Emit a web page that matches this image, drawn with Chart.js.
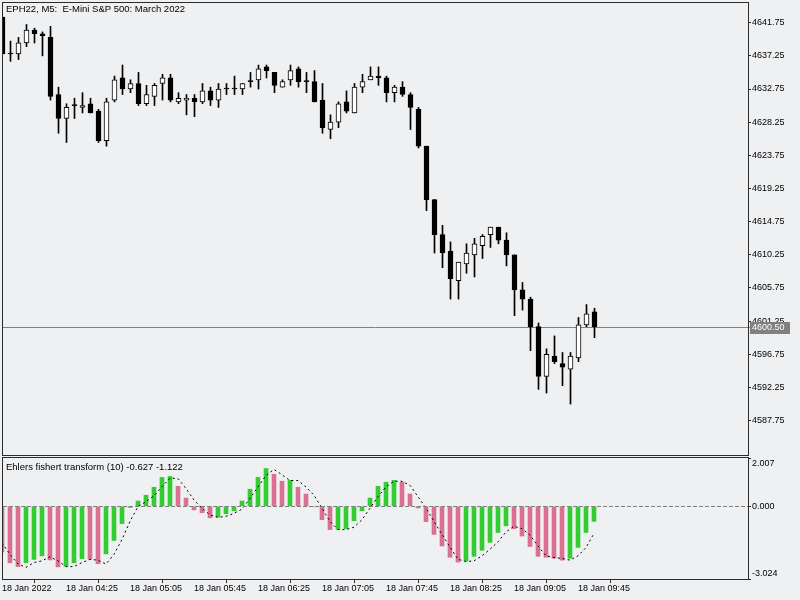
<!DOCTYPE html>
<html>
<head>
<meta charset="utf-8">
<script src="https://cdn.jsdelivr.net/npm/chart.js@4.4.1/dist/chart.umd.min.js"></script>
<style>
    body { margin: 0; background: #eff0f2; }
    #wrap { position: relative; width: 800px; height: 600px; }
    canvas { position: absolute; left: 0; }
</style>
</head>
<body>
<div id="wrap">
    <canvas id="priceChart" width="800" height="457" style="top:0"></canvas>
    <canvas id="fisherChart" width="800" height="145" style="top:455px"></canvas>
</div>
<script>
// EPH22 M5 candles, 18 Jan 2022 03:45 .. 09:55
const opens = [4642.50, 4637.50, 4637.50, 4639.00, 4640.75, 4640.25, 4639.75, 4632.00, 4628.75, 4630.50,
    4630.25, 4630.75, 4629.75, 4625.75, 4631.25, 4634.25, 4632.75, 4633.50, 4630.75, 4631.75,
    4633.50, 4634.25, 4631.00, 4631.25, 4631.50, 4631.00, 4632.50, 4631.25, 4632.75, 4632.75,
    4632.75, 4633.75, 4634.00, 4635.75, 4635.00, 4633.00, 4634.00, 4635.50, 4633.75, 4633.75,
    4631.25, 4627.25, 4628.25, 4631.00, 4629.50, 4633.00, 4634.00, 4634.50, 4634.25, 4632.25,
    4633.00, 4632.00, 4630.00, 4625.00, 4617.75, 4613.00, 4610.75, 4606.75, 4609.00, 4610.25,
    4611.50, 4613.00, 4614.00, 4612.25, 4610.25, 4605.50, 4604.25, 4600.50, 4593.75, 4596.50,
    4595.50, 4594.75, 4596.25, 4600.75, 4602.50];
const highs = [4642.50, 4639.25, 4639.75, 4641.50, 4641.00, 4640.50, 4641.25, 4633.00, 4630.75, 4631.50,
    4632.25, 4631.50, 4630.00, 4631.50, 4634.50, 4636.00, 4634.00, 4635.00, 4633.25, 4633.50,
    4634.75, 4634.75, 4632.25, 4632.00, 4632.00, 4633.50, 4633.00, 4633.50, 4633.50, 4634.50,
    4633.50, 4635.00, 4636.00, 4636.00, 4635.00, 4634.00, 4636.00, 4635.75, 4635.00, 4635.25,
    4633.50, 4629.25, 4631.00, 4632.50, 4633.50, 4634.75, 4635.75, 4635.75, 4634.50, 4633.25,
    4633.75, 4632.25, 4630.25, 4625.00, 4617.75, 4614.25, 4612.00, 4609.25, 4611.75, 4612.50,
    4613.00, 4614.00, 4614.00, 4613.25, 4610.25, 4606.50, 4604.50, 4601.00, 4597.50, 4599.25,
    4597.00, 4597.00, 4601.75, 4603.50, 4603.00];
const lows = [4637.50, 4636.50, 4636.75, 4638.50, 4639.00, 4637.25, 4631.25, 4626.75, 4625.50, 4628.75,
    4629.50, 4629.50, 4625.50, 4625.00, 4631.00, 4632.00, 4632.25, 4630.50, 4630.50, 4630.50,
    4631.25, 4631.00, 4630.75, 4629.25, 4629.00, 4630.75, 4630.50, 4630.25, 4632.00, 4632.00,
    4632.00, 4633.00, 4632.75, 4634.25, 4632.25, 4633.00, 4633.25, 4633.00, 4632.25, 4631.00,
    4626.75, 4626.00, 4627.50, 4629.50, 4629.50, 4632.25, 4634.00, 4633.25, 4631.00, 4631.00,
    4631.75, 4627.25, 4624.75, 4616.25, 4610.50, 4608.50, 4604.25, 4604.25, 4607.75, 4607.25,
    4609.75, 4611.25, 4611.75, 4608.75, 4602.00, 4602.75, 4597.25, 4592.00, 4591.50, 4595.50,
    4592.50, 4590.00, 4595.75, 4600.50, 4599.00];
const closes = [4637.50, 4637.50, 4639.00, 4640.75, 4640.25, 4640.00, 4631.75, 4628.75, 4630.25, 4630.50,
    4630.50, 4629.50, 4625.75, 4631.00, 4634.00, 4632.75, 4633.50, 4630.75, 4632.00, 4633.25,
    4634.25, 4631.25, 4631.50, 4631.50, 4631.00, 4632.50, 4631.25, 4632.75, 4632.75, 4632.75,
    4633.50, 4633.75, 4635.50, 4635.25, 4633.25, 4633.75, 4635.25, 4633.75, 4633.75, 4631.00,
    4627.50, 4628.25, 4630.75, 4629.75, 4633.00, 4633.75, 4634.50, 4634.25, 4632.25, 4633.00,
    4632.00, 4630.25, 4625.00, 4617.75, 4613.00, 4610.50, 4607.00, 4609.25, 4610.50, 4611.75,
    4612.75, 4614.00, 4612.25, 4610.25, 4605.50, 4604.25, 4600.50, 4593.75, 4596.75, 4595.75,
    4595.00, 4596.50, 4600.75, 4602.25, 4600.50];

// Ehlers fisher transform (10): histogram and trigger line
const fisher = [-1.90, -2.35, -2.51, -2.35, -2.21, -2.06, -2.23, -2.52, -2.50, -2.35,
    -2.18, -2.20, -2.39, -1.98, -1.42, -0.72, -0.05, 0.22, 0.46, 0.79,
    1.20, 1.24, 0.83, 0.34, -0.15, -0.27, -0.48, -0.45, -0.31, -0.19,
    0.22, 0.71, 1.20, 1.57, 1.33, 1.04, 1.08, 0.79, 0.51, -0.02,
    -0.56, -0.97, -0.96, -0.93, -0.60, -0.19, 0.34, 0.83, 1.00, 1.08,
    1.00, 0.51, -0.07, -0.64, -1.17, -1.65, -2.12, -2.32, -2.28, -2.08,
    -1.83, -1.50, -1.09, -0.81, -0.93, -1.24, -1.67, -2.08, -2.12, -2.16,
    -2.24, -2.16, -1.71, -1.09, -0.627];
const trigger = [-1.52, -2.00, -2.40, -2.54, -2.34, -2.27, -2.10, -2.27, -2.51, -2.51,
    -2.34, -2.21, -2.24, -2.40, -2.00, -1.38, -0.63, -0.01, 0.19, 0.44,
    0.81, 1.17, 1.15, 0.74, 0.26, -0.08, -0.36, -0.46, -0.42, -0.29,
    -0.12, 0.33, 0.81, 1.28, 1.53, 1.31, 1.07, 1.07, 0.80, 0.46,
    -0.08, -0.63, -0.97, -0.97, -0.87, -0.56, -0.08, 0.40, 0.81, 1.04,
    1.04, 0.87, 0.40, -0.08, -0.63, -1.17, -1.70, -2.20, -2.30, -2.27,
    -2.06, -1.79, -1.48, -1.07, -0.83, -0.93, -1.20, -1.65, -2.06, -2.13,
    -2.17, -2.24, -2.06, -1.72, -1.122];

const priceTicks = [4641.75, 4637.25, 4632.75, 4628.25, 4623.75, 4619.25, 4614.75,
    4610.25, 4605.75, 4601.25, 4596.75, 4592.25, 4587.75];
const fisherTicks = [2.007, 0, -3.024];
const timeTicks = [0, 8, 16, 24, 32, 40, 48, 56, 64, 72];
const timeLabels = ["18 Jan 2022", "18 Jan 04:25", "18 Jan 05:05", "18 Jan 05:45", "18 Jan 06:25",
    "18 Jan 07:05", "18 Jan 07:45", "18 Jan 08:25", "18 Jan 09:05", "18 Jan 09:45"];

const FRAME = "#2b2b2b";
const FAMILY = "Liberation Sans";
const tickFont = { family: FAMILY, size: 9 };

// frame round the plot and the caption in its top-left corner
const framePlugin = {
    id: "frame",
    afterDraw(chart, args, opts) {
        const { ctx, chartArea: a } = chart;
        ctx.save();
        ctx.strokeStyle = FRAME;
        ctx.lineWidth = 1;
        ctx.strokeRect(a.left - 0.5, a.top - 0.5, a.right - a.left + 1, a.bottom - a.top + 1);
        ctx.fillStyle = "#000";
        ctx.font = "9.5px " + FAMILY;
        ctx.textBaseline = "alphabetic";
        ctx.fillText(opts.text, a.left + 3, a.top + opts.dy);
        ctx.restore();
    },
};

// last price line and its tag on the price scale
const lastPricePlugin = {
    id: "lastPrice",
    beforeDatasetsDraw(chart) {
        const { ctx, chartArea: a } = chart;
        const y = Math.round(chart.scales.y.getPixelForValue(closes[closes.length - 1])) + 0.5;
        ctx.save();
        ctx.strokeStyle = "#808080";
        ctx.lineWidth = 1;
        ctx.beginPath();
        ctx.moveTo(a.left, y);
        ctx.lineTo(a.right, y);
        ctx.stroke();
        ctx.restore();
    },
    afterDraw(chart) {
        const { ctx, chartArea: a } = chart;
        const last = closes[closes.length - 1];
        const y = Math.round(chart.scales.y.getPixelForValue(last));
        ctx.save();
        ctx.strokeStyle = "#808080";
        ctx.beginPath();
        ctx.moveTo(a.right, y + 0.5);
        ctx.lineTo(a.right + 3, y + 0.5);
        ctx.stroke();
        ctx.fillStyle = "#808080";
        ctx.fillRect(a.right + 2, y - 5, 40, 12);
        ctx.fillStyle = "#ffffff";
        ctx.font = "9px " + FAMILY;
        ctx.textBaseline = "middle";
        ctx.fillText(last.toFixed(2), a.right + 4, y + 1);
        ctx.restore();
    },
};

const zeroLinePlugin = {
    id: "zeroLine",
    afterDatasetsDraw(chart) {
        const { ctx, chartArea: a } = chart;
        const y = Math.round(chart.scales.y.getPixelForValue(0)) + 0.5;
        ctx.save();
        ctx.strokeStyle = "#808080";
        ctx.lineWidth = 1;
        ctx.setLineDash([4, 2]);
        ctx.beginPath();
        ctx.moveTo(a.left, y);
        ctx.lineTo(a.right, y);
        ctx.stroke();
        ctx.restore();
    },
};

const idx = closes.map((c, i) => i);

const priceChart = new Chart(document.getElementById("priceChart").getContext("2d"), {
    type: "bar",
    data: {
        datasets: [
            {
                label: "body",
                data: idx.map(i => ({ x: i, y: [opens[i], closes[i]] })),
                backgroundColor: idx.map(i => (closes[i] > opens[i] ? "#ffffff" : "#000000")),
                borderColor: "#000000",
                borderWidth: 1,
                borderSkipped: false,
                barThickness: 5,
                minBarLength: 1,
                grouped: false,
                order: 0,
            },
            {
                label: "wick",
                data: idx.map(i => ({ x: i, y: [lows[i], highs[i]] })),
                backgroundColor: "#000000",
                borderWidth: 0,
                barThickness: 1,
                grouped: false,
                order: 1,
            },
        ],
    },
    options: {
        responsive: false,
        animation: false,
        events: [],
        layout: { padding: { left: 3, top: 3, right: 0, bottom: 2 } },
        plugins: {
            legend: { display: false },
            tooltip: { enabled: false },
            frame: { text: "EPH22, M5:  E-Mini S&P 500: March 2022", dy: 9 },
        },
        scales: {
            x: { type: "linear", offset: false, min: 0.0625, max: 93.1875, display: false },
            y: {
                position: "right",
                min: 4583.09,
                max: 4644.42,
                border: { display: false },
                grid: { drawOnChartArea: false, tickLength: 3, color: FRAME },
                ticks: {
                    font: tickFont,
                    color: "#000",
                    padding: 1,
                    autoSkip: false,
                    callback: v => v.toFixed(2),
                },
                afterBuildTicks: s => { s.ticks = priceTicks.map(v => ({ value: v })); },
                afterFit: s => { s.width = 52; s.paddingTop = 0; s.paddingBottom = 0; },
            },
        },
    },
    plugins: [lastPricePlugin, framePlugin],
});

const fisherChart = new Chart(document.getElementById("fisherChart").getContext("2d"), {
    type: "bar",
    data: {
        datasets: [
            {
                type: "line",
                label: "trigger",
                data: idx.map(i => ({ x: i, y: trigger[i] })),
                borderColor: "#000000",
                borderWidth: 1,
                borderDash: [2, 3],
                pointRadius: 0,
                fill: false,
                order: 0,
            },
            {
                label: "fisher",
                data: idx.map(i => ({ x: i, y: fisher[i] })),
                backgroundColor: idx.map(i => (i > 0 && fisher[i] >= fisher[i - 1] ? "#32cd32" : "#db7093")),
                borderWidth: 0,
                barThickness: 4,
                grouped: false,
                order: 1,
            },
        ],
    },
    options: {
        responsive: false,
        animation: false,
        events: [],
        layout: { padding: { left: 3, top: 3, right: 0, bottom: 0 } },
        plugins: {
            legend: { display: false },
            tooltip: { enabled: false },
            frame: { text: "Ehlers fishert transform (10) -0.627 -1.122", dy: 12 },
        },
        scales: {
            x: {
                type: "linear",
                offset: false,
                min: 0.125,
                max: 93.25,
                position: "bottom",
                border: { display: false },
                grid: { drawOnChartArea: false, tickLength: 4, color: FRAME },
                ticks: {
                    font: tickFont,
                    color: "#000",
                    padding: 0,
                    align: "start",
                    maxRotation: 0,
                    autoSkip: false,
                    callback: (v, i) => timeLabels[i],
                },
                afterBuildTicks: s => { s.ticks = timeTicks.map(v => ({ value: v })); },
                afterFit: s => { s.height = 21; s.paddingLeft = 0; s.paddingRight = 0; },
            },
            y: {
                position: "right",
                min: -3.024,
                max: 2.007,
                border: { display: false },
                grid: { drawOnChartArea: false, tickLength: 3, color: FRAME },
                ticks: {
                    font: tickFont,
                    color: "#000",
                    padding: 1,
                    autoSkip: false,
                    callback: v => {
                        const t = v.toFixed(3);
                        if (v === fisherTicks[0]) return ["", t];
                        if (v === fisherTicks[fisherTicks.length - 1]) return [t, ""];
                        return t;
                    },
                },
                afterBuildTicks: s => { s.ticks = fisherTicks.map(v => ({ value: v })); },
                afterFit: s => { s.width = 52; s.paddingTop = 0; s.paddingBottom = 0; },
            },
        },
    },
    plugins: [zeroLinePlugin, framePlugin],
});
</script>
</body>
</html>
